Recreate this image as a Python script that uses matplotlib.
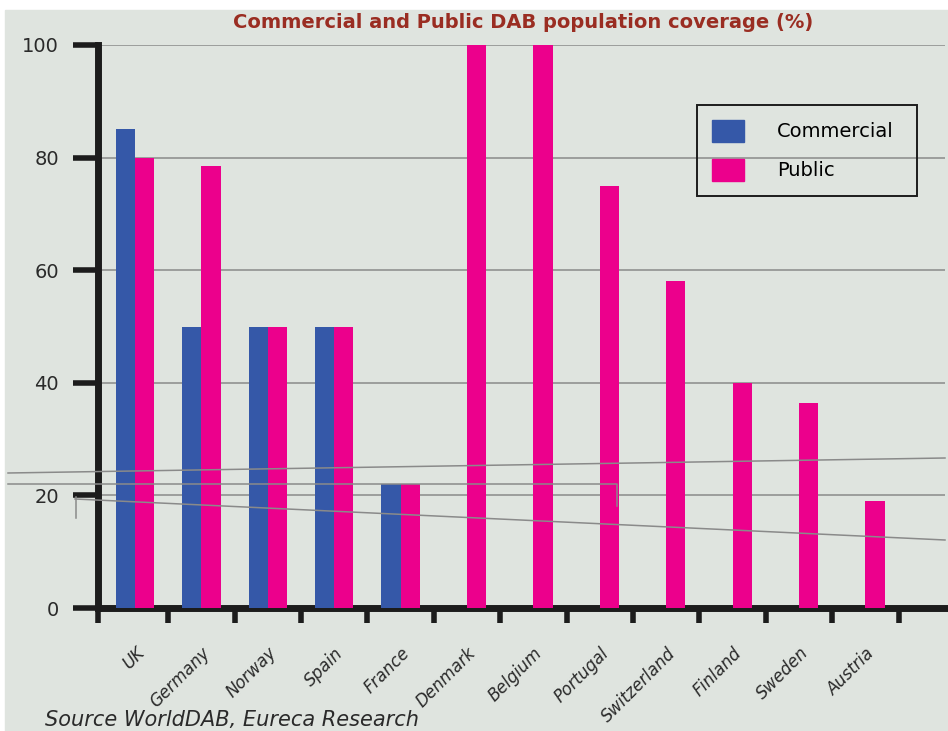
import numpy as np
import matplotlib.pyplot as plt
from matplotlib.patches import Patch, Rectangle
from matplotlib.lines import Line2D

# data
countries = ["UK", "Germany", "Norway", "Spain", "France", "Denmark", "Belgium",
             "Portugal", "Switzerland", "Finland", "Sweden", "Austria"]
commercial = [85, 50, 50, 50, 22, 0, 0, 0, 0, 0, 0, 0]
public = [80, 78.5, 50, 50, 22, 100, 100, 75, 58, 40, 36.5, 19]
yticks = [0, 20, 40, 60, 80, 100]

BG = "#dfe4df"
BLUE = "#3558a8"
PINK = "#ec008c"
W, H = 948, 731

fig = plt.figure(figsize=(W / 100, H / 100), dpi=100, facecolor="white")
fig.patches.append(Rectangle((5 / W, 0), 1, 1 - 10 / H, transform=fig.transFigure,
                             color=BG, zorder=-10))

ax = fig.add_axes([98 / W, 1 - 608 / H, (945 - 98) / W, (608 - 45) / H])
ax.set_facecolor("none")

x = np.arange(len(countries))
bw = 0.29
com = np.array(commercial)
has_com = com > 0
ax.bar(x[has_com] - bw / 2, com[has_com], bw, color=BLUE, zorder=3)
ax.bar(x + bw / 2, public, bw, color=PINK, zorder=3)

ax.set_xlim(-0.557, 12.2)
ax.set_ylim(0, 100)

# gridlines
for y in yticks[1:]:
    ax.axhline(y, color="#8a8a8a", lw=1.1, zorder=1)

for s in ["top", "right"]:
    ax.spines[s].set_visible(False)
ax.spines["left"].set_linewidth(5)
ax.spines["bottom"].set_linewidth(5)
ax.spines["left"].set_color("#1c1c1c")
ax.spines["bottom"].set_color("#1c1c1c")

ax.set_yticks(yticks)
ax.set_yticklabels([str(v) for v in yticks], fontsize=14, color="#2a2a2a")
ax.tick_params(axis="y", length=18, width=4, pad=10, color="#1c1c1c")

# boundary ticks (major) and country labels (minor)
ax.set_xticks(np.r_[-0.557, np.arange(len(countries)) + 0.5])
ax.set_xticklabels([])
ax.tick_params(axis="x", which="major", length=11, width=4, color="#1c1c1c")
ax.set_xticks(x, minor=True)
ax.set_xticklabels(countries, minor=True, rotation=45, ha="right", va="top",
                   rotation_mode="anchor", fontsize=12, style="italic", color="#2a2a2a")
ax.tick_params(axis="x", which="minor", length=0, pad=26)

fig.text(523 / W, 1 - 22 / H, "Commercial and Public DAB population coverage (%)",
         ha="center", va="center", fontsize=14, fontweight="bold", color="#9a2d22")
fig.text(45 / W, 1 - 720 / H, "Source WorldDAB, Eureca Research", ha="left",
         va="center", fontsize=15, style="italic", color="#2a2a2a")

# legend
handles = [Patch(color=BLUE), Patch(color=PINK)]
leg = fig.legend(handles, ["Commercial", "Public"], loc="upper left",
                 bbox_to_anchor=(697 / W, 1 - 198 / H, 220 / W, 93 / H), mode="expand",
                 borderaxespad=0, fontsize=14, frameon=True, fancybox=False,
                 facecolor="none", edgecolor="#1c1c1c", handlelength=1.65,
                 handleheight=1.4, borderpad=0.75, labelspacing=0.85, handletextpad=1.7)
leg.get_frame().set_linewidth(1.4)
leg.get_frame().set_alpha(None)

# faint stray lines visible in the scanned original
for xs, ys in [([8, 945], [473, 458]), ([8, 617, 617], [484, 484, 506]),
               ([75, 945], [499, 540]), ([76, 76], [497, 518])]:
    fig.add_artist(Line2D(np.array(xs) / W, 1 - np.array(ys) / H,
                          transform=fig.transFigure, color="#8a8a8a", lw=1.1))

fig.savefig("out.png", dpi=100, facecolor=fig.get_facecolor())
